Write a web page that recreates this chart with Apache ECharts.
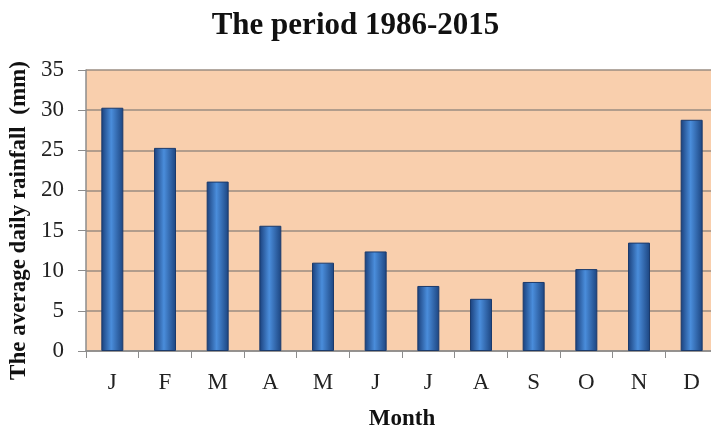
<!DOCTYPE html>
<html>
<head>
<meta charset="utf-8">
<script src="https://cdn.jsdelivr.net/npm/echarts@6/dist/echarts.min.js"></script>
<style>
  html, body { margin: 0; padding: 0; background: #fff; }
  #main { width: 711px; height: 427px; }
</style>
</head>
<body>
<div id="main"></div>
<script>
var months = ['J', 'F', 'M', 'A', 'M', 'J', 'J', 'A', 'S', 'O', 'N', 'D'];
var rainfall = [30.3, 25.3, 21.1, 15.6, 11.0, 12.4, 8.1, 6.5, 8.6, 10.2, 13.5, 28.8];
var yTicks = [0, 5, 10, 15, 20, 25, 30, 35];

var serif = '"Liberation Serif", "DejaVu Serif", serif';

var myChart = echarts.init(document.getElementById('main'));

var option = {
  backgroundColor: '#ffffff',
  animation: false,
  title: {
    text: 'The period 1986-2015',
    left: 'center',
    top: 5,
    textStyle: { fontFamily: serif, fontSize: 31, fontWeight: 'bold', color: '#111' }
  },
  grid: {
    left: 86,
    right: -7,
    top: 70,
    bottom: 76,
    outerBoundsMode: 'none',
    containLabel: false,
    show: true,
    backgroundColor: '#F9CFAD',
    borderWidth: 0
  },
  xAxis: {
    type: 'category',
    data: months,
    name: 'Month',
    nameLocation: 'middle',
    nameGap: 57,
    nameTextStyle: { fontFamily: serif, fontSize: 23, fontWeight: 'bold', color: '#111' },
    axisLine: { lineStyle: { color: '#8c8c8c', width: 1.5 } },
    axisTick: { show: true, length: 7, lineStyle: { color: '#8c8c8c' } },
    axisLabel: { fontFamily: serif, fontSize: 23, color: '#222', margin: 20 }
  },
  yAxis: {
    type: 'value',
    min: 0,
    max: 35,
    interval: 5,
    name: 'The average daily rainfall  (mm)',
    nameLocation: 'middle',
    nameGap: 53,
    nameTextStyle: { fontFamily: serif, fontSize: 23, fontWeight: 'bold', color: '#111', padding: [0, 20, 0, 0] },
    axisLine: { show: true, lineStyle: { color: '#8c8c8c', width: 1.5 } },
    axisTick: { show: true, length: 8, lineStyle: { color: '#8c8c8c' } },
    axisLabel: {
      fontFamily: serif, fontSize: 23, color: '#222', margin: 22,
      formatter: function (v) { return yTicks.indexOf(v) >= 0 ? String(v) : ''; }
    },
    splitLine: { show: true, lineStyle: { color: '#9a8c82', width: 1.5 } }
  },
  series: [{
    type: 'bar',
    data: rainfall,
    barWidth: 22,
    itemStyle: {
      color: new echarts.graphic.LinearGradient(0, 0, 1, 0, [
        { offset: 0, color: '#1a3f7a' },
        { offset: 0.45, color: '#4a8ddb' },
        { offset: 1, color: '#1c447f' }
      ]),
      borderColor: '#1b3a6b',
      borderWidth: 1
    }
  }]
};

myChart.setOption(option);
</script>
</body>
</html>
